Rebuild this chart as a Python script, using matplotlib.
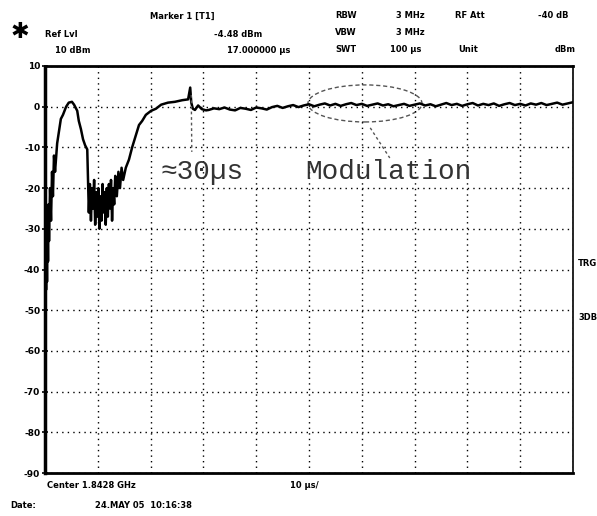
import matplotlib.pyplot as plt
from matplotlib.patches import Ellipse

# trace: time in us, level in dBm
time_us = [0.0, 0.1, 0.2, 0.3, 0.38, 0.47, 0.57, 0.66, 0.76, 0.95, 1.14, 1.33, 1.5, 1.7, 1.9,
           2.3, 2.65, 3.0, 3.4, 4.0, 4.5, 5.1, 5.5, 6.1, 6.4, 6.8, 7.2, 7.6, 8.0, 8.1,
           8.3, 8.5, 8.7, 8.9, 9.1, 9.3, 9.5, 9.7, 9.9, 10.1, 10.3, 10.5, 10.7, 10.9, 11.1,
           11.3, 11.5, 11.7, 11.9, 12.1, 12.3, 12.5, 12.7, 12.9, 13.1, 13.3, 13.6, 13.9, 14.2,
           14.5, 14.8,
           15.3, 15.9, 16.5, 17.2, 17.8, 18.4, 19.1, 20.1, 21.0, 22.0, 23.3, 24.6, 26.0, 27.1,
           27.5, 27.7, 28.0, 28.4, 29.0, 29.7, 30.5,
           31, 32, 33, 34, 35, 36, 37, 38, 39, 40,
           41, 42, 43, 44, 45, 46, 47, 48, 49, 50,
           51, 52, 53, 54, 55, 56, 57, 58, 59, 60,
           61, 62, 63, 64, 65, 66, 67, 68, 69, 70,
           71, 72, 73, 74, 75, 76, 77, 78, 79, 80,
           81, 82, 83, 84, 85, 86, 87, 88, 89, 90,
           91, 92, 93, 94, 95, 96, 97, 98, 99, 100]
level_dbm = [-40, -28, -45, -32, -43, -27, -38, -24, -33, -20, -28, -16, -22, -12, -16,
             -9, -6, -3, -2, 0, 1, 1.2, 0.5, -1, -3.5, -5.5, -8, -9.5, -10.5, -16,
             -26, -19, -28, -20, -25, -18, -29, -21, -27, -20, -30, -22, -28, -19, -26,
             -21, -29, -20, -27, -19, -25, -18, -28, -20, -24, -17, -22, -16, -20,
             -15, -18,
             -15, -13, -10, -7, -4.5, -3.5, -2, -1, -0.5, 0.5, 1.0, 1.2, 1.6, 1.8,
             4.7, 1.0, -0.5, -0.8, 0.3, -0.6, -0.9,
             -0.8, -0.4, -0.6, -0.2, -0.7, -0.9, -0.3, -0.5, -0.8, -0.2,
             -0.4, -0.7, -0.1, 0.2, -0.3, 0.1, 0.4, -0.1, 0.3, 0.6,
             0.1, 0.5, 0.8, 0.3, 0.7, 0.2, 0.6, 0.9, 0.4, 0.7,
             0.2, 0.5, 0.8, 0.3, 0.6, 0.1, 0.4, 0.7, 0.2, 0.5,
             0.8, 0.3, 0.6, 0.1, 0.5, 0.9, 0.4, 0.7, 0.2, 0.6,
             0.9, 0.3, 0.7, 0.4, 0.8, 0.2, 0.6, 0.9, 0.4, 0.7,
             0.3, 0.8, 0.5, 0.9, 0.4, 0.7, 1.0, 0.5, 0.8, 1.1]

y_ticks = [10, 0, -10, -20, -30, -40, -50, -60, -70, -80, -90]
x_ticks = [0, 10, 20, 30, 40, 50, 60, 70, 80, 90, 100]

fig = plt.figure(figsize=(5.97, 5.16), dpi=100)
ax = fig.add_axes([0.0754, 0.0833, 0.8844, 0.7888])

ax.plot(time_us, level_dbm, color='black', linewidth=1.8)

ax.set_xlim(0, 100)
ax.set_ylim(-90, 10)
ax.set_yticks(y_ticks)
ax.set_yticklabels([str(v) for v in y_ticks], fontsize=6.5, fontweight='bold')
ax.set_xticks(x_ticks)
ax.set_xticklabels([])
ax.tick_params(axis='y', length=5, width=1.2, direction='inout', pad=1)
ax.tick_params(axis='x', length=0)
ax.grid(True, color='black', linestyle=(0, (1, 3)), linewidth=1)

# frame like the analyser screen
ax.spines['top'].set_linewidth(2)
ax.spines['bottom'].set_linewidth(2)
ax.spines['left'].set_linestyle((0, (1, 1)))
ax.spines['left'].set_linewidth(2.5)
ax.spines['right'].set_linestyle((0, (1, 1)))
ax.spines['right'].set_linewidth(1.2)

# annotations
ax.add_patch(Ellipse((60.6, 0.8), 21.6, 9.1, fill=False, edgecolor='#555555',
                     linestyle=(0, (3, 2)), linewidth=1))
ax.plot([61.6, 65.3], [-5.2, -12.6], color='#555555', linestyle=(0, (2, 2)), linewidth=1)
ax.plot([27.7, 27.8], [2.9, -11.1], color='#555555', linestyle=(0, (2, 2)), linewidth=1)
ax.text(21.8, -16, '≈30µs', family='Liberation Mono', fontsize=20, color='#333333',
        va='center', ha='left')
ax.text(49.2, -16, 'Modulation', family='Liberation Mono', fontsize=20, color='#333333',
        va='center', ha='left')

# header text
hdr = dict(fontsize=6, fontweight='bold', color='black')
fig.text(20 / 597, 1 - 32 / 516, '✱', fontsize=16, ha='center', va='center')
fig.text(150 / 597, 1 - 19 / 516, 'Marker 1 [T1]', **hdr)
fig.text(45 / 597, 1 - 37 / 516, 'Ref Lvl', **hdr)
fig.text(55 / 597, 1 - 53 / 516, '10 dBm', **hdr)
fig.text(262 / 597, 1 - 37 / 516, '-4.48 dBm', ha='right', **hdr)
fig.text(290 / 597, 1 - 53 / 516, '17.000000 µs', ha='right', **hdr)
fig.text(335 / 597, 1 - 18 / 516, 'RBW', **hdr)
fig.text(335 / 597, 1 - 35 / 516, 'VBW', **hdr)
fig.text(335 / 597, 1 - 52 / 516, 'SWT', **hdr)
fig.text(425 / 597, 1 - 18 / 516, '3 MHz', ha='right', **hdr)
fig.text(425 / 597, 1 - 35 / 516, '3 MHz', ha='right', **hdr)
fig.text(421 / 597, 1 - 52 / 516, '100 µs', ha='right', **hdr)
fig.text(455 / 597, 1 - 18 / 516, 'RF Att', **hdr)
fig.text(568 / 597, 1 - 18 / 516, '-40 dB', ha='right', **hdr)
fig.text(458 / 597, 1 - 52 / 516, 'Unit', **hdr)
fig.text(576 / 597, 1 - 52 / 516, 'dBm', ha='right', **hdr)
fig.text(578 / 597, 1 - 266 / 516, 'TRG', **hdr)
fig.text(578 / 597, 1 - 320 / 516, '3DB', **hdr)

# footer text
fig.text(47 / 597, 1 - 488 / 516, 'Center 1.8428 GHz', **hdr)
fig.text(290 / 597, 1 - 488 / 516, '10 µs/', **hdr)
fig.text(10 / 597, 1 - 508 / 516, 'Date:', **hdr)
fig.text(95 / 597, 1 - 508 / 516, '24.MAY 05  10:16:38', **hdr)

fig.savefig('out.png', dpi=100)
